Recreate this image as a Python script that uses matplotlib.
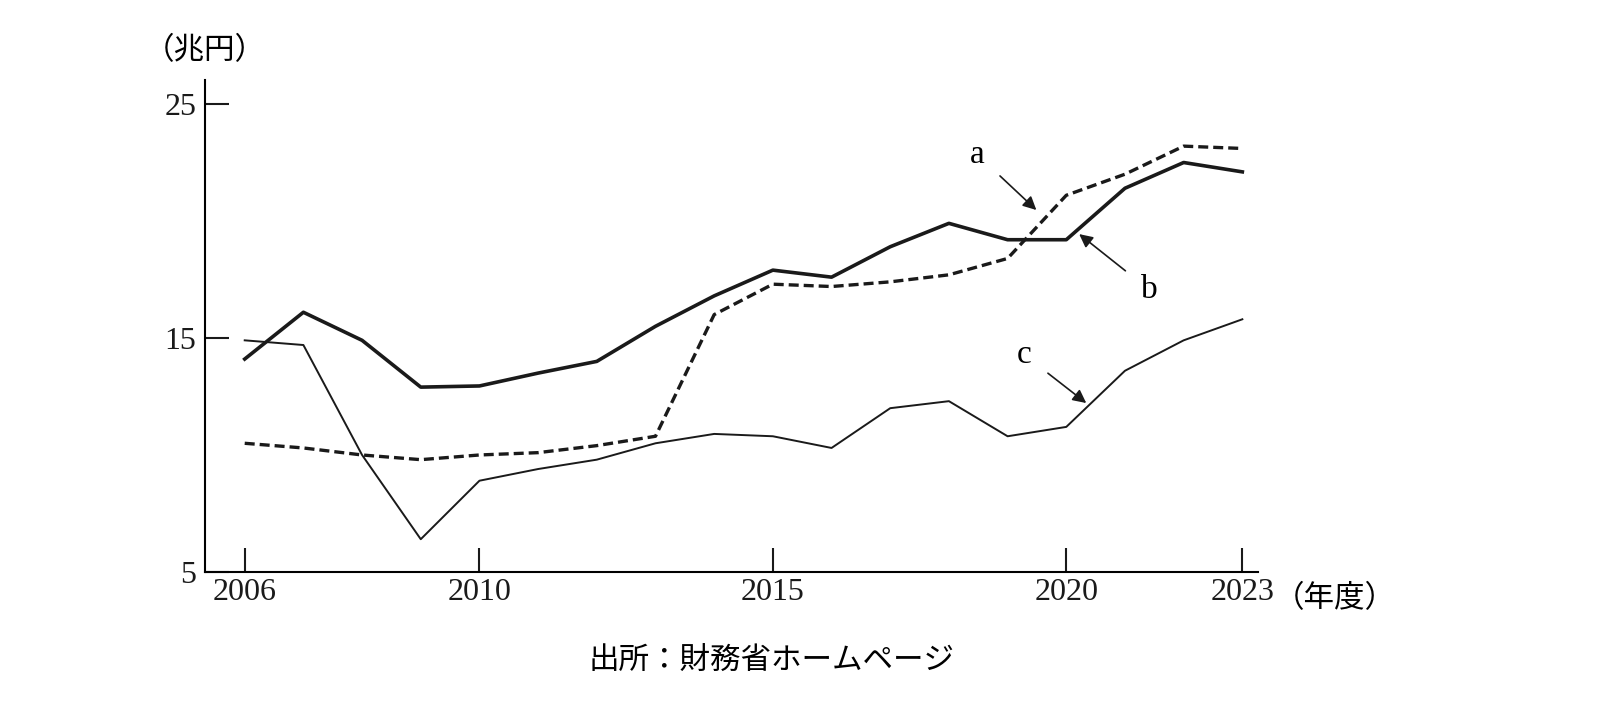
import matplotlib
matplotlib.use("Agg")
import matplotlib.pyplot as plt

years = list(range(2006, 2024))
a = [10.5,10.3,10.0,9.8,10.0,10.1,10.4,10.8,16.0,17.3,17.2,17.4,17.7,18.4,21.1,22.0,23.2,23.1]
b = [14.1,16.1,14.9,12.9,12.95,13.5,14.0,15.5,16.8,17.9,17.6,18.9,19.9,19.2,19.2,21.4,22.5,22.1]
c = [14.9,14.7,10.0,6.4,8.9,9.4,9.8,10.5,10.9,10.8,10.3,12.0,12.3,10.8,11.2,13.6,14.9,15.8]
xticks = [2006, 2010, 2015, 2020, 2023]
yticks = [5, 15, 25]

plt.rcParams['font.family'] = ['Liberation Serif', 'Noto Sans CJK JP', 'DejaVu Sans']
fig = plt.figure(figsize=(16, 7.2), dpi=100)
ax = fig.add_axes([0.128, 0.2056, 0.786 - 0.128, 0.889 - 0.2056])
ax.plot(years, b, color='#1a1a1a', lw=2.6)
ax.plot(years, a, color='#1a1a1a', lw=2.4, ls=(0, (3, 1.5)))
ax.plot(years, c, color='#1a1a1a', lw=1.4)
ax.set_xlim(2005.32, 2023.26)
ax.set_ylim(5, 26.03)
ax.set_xticks(xticks)
ax.set_yticks(yticks)
ax.tick_params(direction='in', length=17, width=1.5, labelsize=23, colors='#1a1a1a')
ax.tick_params(axis='x', pad=4)
ax.tick_params(axis='y', pad=6)
for s in ['top', 'right']:
    ax.spines[s].set_visible(False)
for s in ['left', 'bottom']:
    ax.spines[s].set_linewidth(1.5)
arr = dict(arrowstyle='-|>', color='#1a1a1a', lw=1.2, mutation_scale=20, shrinkA=12, shrinkB=0)
ax.annotate('a', xy=(2019.49, 20.47), xytext=(2018.49, 22.82), fontsize=24, ha='center', va='center', arrowprops=arr)
ax.annotate('b', xy=(2020.22, 19.44), xytext=(2021.42, 17.05), fontsize=24, ha='center', va='center', arrowprops=arr)
ax.annotate('c', xy=(2020.34, 12.22), xytext=(2019.29, 14.27), fontsize=24, ha='center', va='center', arrowprops=arr)
fig.text(205/1600, 1 - 52/720, '（兆円）', fontsize=22, ha='center', va='center')
fig.text(1335/1600, 1 - 600/720, '（年度）', fontsize=22, ha='center', va='center')
fig.text(772/1600, 1 - 662/720, '出所：財務省ホームページ', fontsize=22, ha='center', va='center')
fig.savefig('out.png', dpi=100, facecolor='white')
